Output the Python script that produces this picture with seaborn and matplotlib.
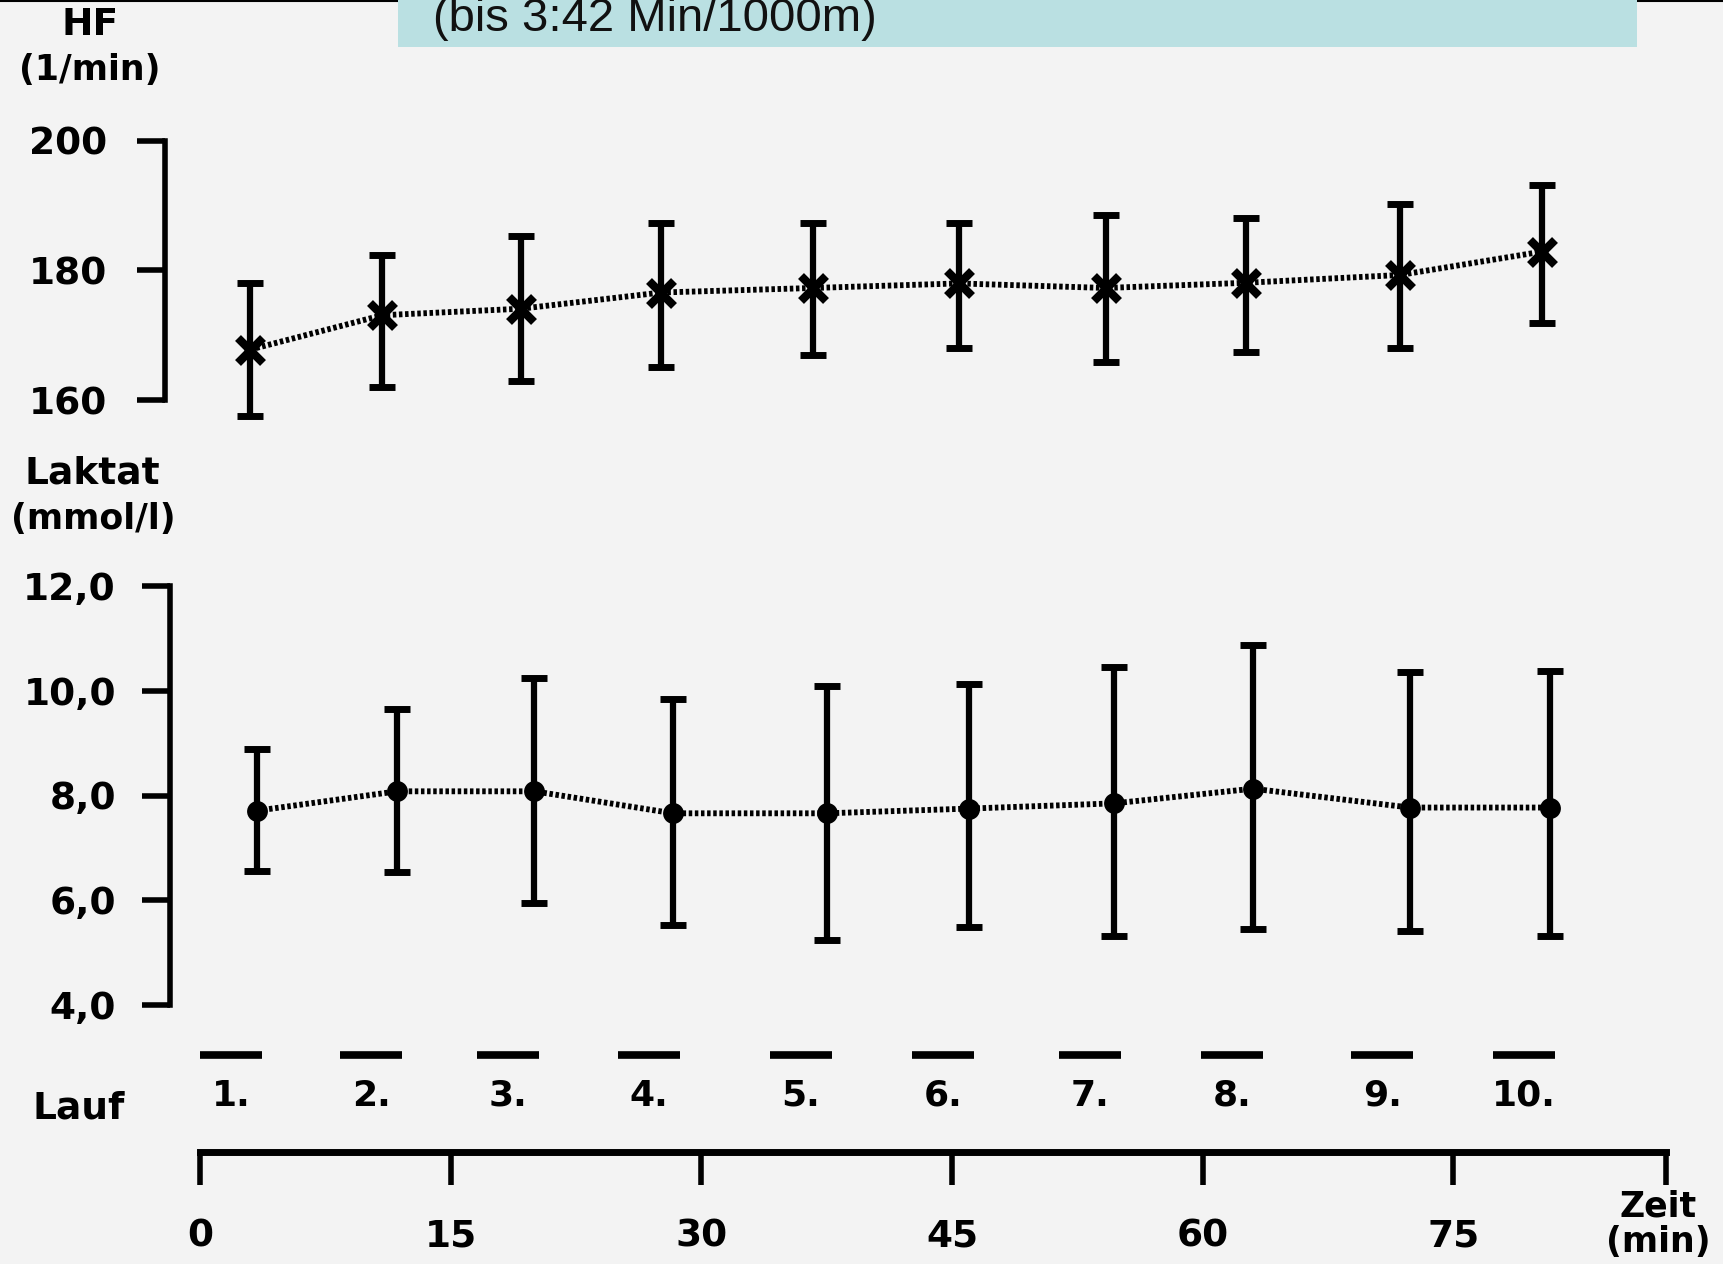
import numpy as np
import pandas as pd
import seaborn as sns
import matplotlib.pyplot as plt
from matplotlib.patches import Rectangle
from matplotlib.lines import Line2D

hf_time = [3.0, 10.9, 19.2, 27.6, 36.7, 45.4, 54.2, 62.6, 71.8, 80.3]
hf_mean = [167.8, 173.1, 174.1, 176.6, 177.3, 178.0, 177.3, 178.1, 179.3, 182.9]
hf_upper = [178.0, 182.4, 185.3, 187.3, 187.3, 187.3, 188.5, 188.1, 190.2, 193.2]
hf_lower = [157.6, 162.0, 162.9, 165.1, 167.0, 168.0, 165.9, 167.5, 168.1, 171.9]

lak_time = [3.4, 11.8, 20.0, 28.3, 37.5, 46.0, 54.7, 63.0, 72.4, 80.8]
lak_mean = [7.71, 8.08, 8.08, 7.66, 7.66, 7.75, 7.85, 8.13, 7.77, 7.77]
lak_upper = [8.88, 9.66, 10.25, 9.85, 10.10, 10.12, 10.46, 10.88, 10.35, 10.37]
lak_lower = [6.55, 6.53, 5.94, 5.52, 5.25, 5.48, 5.31, 5.46, 5.42, 5.31]

# Laeufe (Start in min, Dauer 3:42 min)
run_start = [0.0, 8.4, 16.6, 25.0, 34.1, 42.6, 51.4, 59.9, 68.9, 77.4]
run_duration = 3.7
run_labels = ['1.', '2.', '3.', '4.', '5.', '6.', '7.', '8.', '9.', '10.']

hf_ticks = [160, 180, 200]
lak_ticks = [4.0, 6.0, 8.0, 10.0, 12.0]
lak_ticklabels = ['4,0', '6,0', '8,0', '10,0', '12,0']
time_ticks = [0, 15, 30, 45, 60, 75]
time_end = 87.7

hf_df = pd.DataFrame({'zeit': hf_time, 'hf': hf_mean})
lak_df = pd.DataFrame({'zeit': lak_time, 'laktat': lak_mean})

sns.set_style('white')
plt.rcParams['font.family'] = ['DejaVu Sans']
plt.rcParams['font.weight'] = 'bold'
for key in ['text.color', 'axes.labelcolor', 'xtick.color', 'ytick.color', 'axes.edgecolor']:
    plt.rcParams[key] = 'black'

W, H = 1724, 1264
BG = '#f3f3f3'


def fx(px):
    return px / W


def fy(py):
    return 1 - py / H


def ylim_from(v0, p0, v1, p1, top_px, bottom_px):
    # Werte <-> Pixel (linear), Achsgrenzen fuer gegebene Pixelhoehe
    k = (p1 - p0) / (v1 - v0)
    return v0 + (bottom_px - p0) / k, v0 + (top_px - p0) / k


XLIM = (-200.1 / 16.71, (W - 200.1) / 16.71)

fig = plt.figure(figsize=(W / 100, H / 100), dpi=100, facecolor=BG)

# Kopfzeile
fig.add_artist(Line2D([0, 1], [fy(1), fy(1)], transform=fig.transFigure,
                      color='black', lw=1.5, zorder=1))
fig.add_artist(Rectangle((fx(398), fy(47)), fx(1637) - fx(398), 47 / H,
                         transform=fig.transFigure, facecolor='#bae0e2',
                         edgecolor='none', zorder=2))
fig.text(fx(433), fy(31), '(bis 3:42 Min/1000m)', fontsize=34,
         family='Liberation Sans', fontweight='normal', color='#111111',
         va='baseline', ha='left', zorder=3)

err_kw = dict(fmt='none', ecolor='black', elinewidth=4.5, capsize=9.5,
              capthick=5, zorder=3)
line_kw = dict(color='black', lw=4.2, linestyle=(0, (0.6, 0.45)))

# HF
ax_hf = fig.add_axes([0, fy(450), 1, (450 - 60) / H])
ax_hf.set_facecolor('none')
ax_hf.errorbar(hf_time, hf_mean,
               yerr=[np.subtract(hf_mean, hf_lower), np.subtract(hf_upper, hf_mean)],
               **err_kw)
sns.lineplot(data=hf_df, x='zeit', y='hf', ax=ax_hf, marker='x',
             markersize=18, markeredgewidth=6, markeredgecolor='black', **line_kw)
ax_hf.set_xlim(*XLIM)
ax_hf.set_ylim(*ylim_from(200, 140.7, 160, 400.2, 60, 450))
ax_hf.set_yticks(hf_ticks)
ax_hf.set_xticks([])
for s in ['top', 'right', 'bottom']:
    ax_hf.spines[s].set_visible(False)
ax_hf.spines['left'].set_position(('data', -2.1))
ax_hf.spines['left'].set_bounds(160, 200)
ax_hf.spines['left'].set_linewidth(4)
ax_hf.tick_params(axis='y', direction='out', length=20, width=4, pad=22,
                  labelsize=27, left=True)
ax_hf.set_xlabel('')
ax_hf.set_ylabel('')

fig.text(fx(90), fy(25), 'HF', fontsize=27, ha='center', va='center')
fig.text(fx(90), fy(70), '(1/min)', fontsize=25, ha='center', va='center')

# Laktat
ax_lak = fig.add_axes([0, fy(1020), 1, (1020 - 520) / H])
ax_lak.set_facecolor('none')
ax_lak.errorbar(lak_time, lak_mean,
                yerr=[np.subtract(lak_mean, lak_lower), np.subtract(lak_upper, lak_mean)],
                **err_kw)
sns.lineplot(data=lak_df, x='zeit', y='laktat', ax=ax_lak, marker='o',
             markersize=15, markeredgewidth=0, markerfacecolor='black', **line_kw)
ax_lak.set_xlim(*XLIM)
ax_lak.set_ylim(*ylim_from(12, 586, 4, 1005, 520, 1020))
ax_lak.set_yticks(lak_ticks)
ax_lak.set_yticklabels(lak_ticklabels)
ax_lak.set_xticks([])
for s in ['top', 'right', 'bottom']:
    ax_lak.spines[s].set_visible(False)
ax_lak.spines['left'].set_position(('data', -1.8))
ax_lak.spines['left'].set_bounds(4, 12)
ax_lak.spines['left'].set_linewidth(4)
ax_lak.tick_params(axis='y', direction='out', length=20, width=4, pad=19,
                   labelsize=27, left=True)
ax_lak.set_xlabel('')
ax_lak.set_ylabel('')

fig.text(fx(92), fy(474), 'Laktat', fontsize=27, ha='center', va='center')
fig.text(fx(93), fy(519), '(mmol/l)', fontsize=25, ha='center', va='center')

# Laeufe und Zeitachse
ax_t = fig.add_axes([0, 0, 1, fy(1020)])
ax_t.set_facecolor('none')
ax_t.set_xlim(*XLIM)
ax_t.set_ylim(0, 1)
run_end = np.add(run_start, run_duration)
ax_t.hlines([0.855] * len(run_start), run_start, run_end, color='black', lw=5.5)
for xs, lab in zip(np.add(run_start, run_duration / 2), run_labels):
    ax_t.text(xs, 0.689, lab, fontsize=26, ha='center', va='center')
ax_t.text(-7.25, 0.639, 'Lauf', fontsize=27, ha='center', va='center')
ax_t.text(87.25, 0.164, 'Zeit\n(min)', fontsize=25, ha='center', va='center',
          linespacing=1.05)

for s in ['top', 'right', 'left']:
    ax_t.spines[s].set_visible(False)
ax_t.spines['bottom'].set_position(('data', 0.459))
ax_t.spines['bottom'].set_bounds(0, time_end)
ax_t.spines['bottom'].set_linewidth(5)
ax_t.set_xticks(time_ticks + [time_end])
ax_t.set_xticklabels([str(t) for t in time_ticks] + [''])
ax_t.set_yticks([])
ax_t.tick_params(axis='x', direction='out', length=24, width=4, pad=24,
                 labelsize=27, bottom=True)

fig.savefig('out.png', dpi=100, facecolor=fig.get_facecolor())
